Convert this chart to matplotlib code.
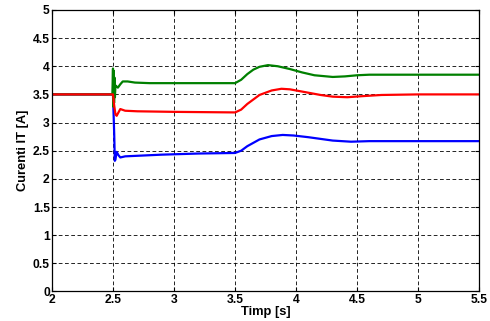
import matplotlib
matplotlib.use("Agg")
import matplotlib.pyplot as plt

# ── Data ───────────────────────────────────────────────────────────────────────

t_green = [2.0, 2.495, 2.500, 2.503, 2.506, 2.509, 2.512, 2.516, 2.52, 2.53, 2.54,
           2.56, 2.58, 2.62, 2.68, 2.8, 3.0, 3.2, 3.5, 3.55, 3.6, 3.65, 3.7,
           3.77, 3.85, 3.95, 4.05, 4.15, 4.3, 4.4, 4.5, 4.6, 5.0, 5.5]
i_green = [3.5, 3.5, 3.96, 3.28, 3.92, 3.35, 3.80, 3.45, 3.66, 3.64, 3.62,
           3.68, 3.73, 3.73, 3.71, 3.70, 3.70, 3.70, 3.70, 3.76, 3.86, 3.94, 3.99,
           4.02, 4.00, 3.95, 3.89, 3.84, 3.81, 3.82, 3.84, 3.85, 3.85, 3.85]

t_red = [2.0, 2.5, 2.51, 2.52, 2.53, 2.545, 2.56, 2.6, 2.7, 3.0, 3.5, 3.55,
         3.6, 3.7, 3.8, 3.88, 3.95, 4.05, 4.2, 4.3, 4.42, 4.55, 4.7, 5.0, 5.5]
i_red = [3.5, 3.5, 3.3, 3.15, 3.12, 3.18, 3.24, 3.21, 3.20, 3.19, 3.18, 3.23,
         3.33, 3.49, 3.57, 3.60, 3.59, 3.55, 3.49, 3.46, 3.45, 3.47, 3.49, 3.50, 3.50]

t_blue = [2.0, 2.5, 2.51, 2.515, 2.52, 2.53, 2.545, 2.56, 2.6, 2.7, 2.9, 3.2,
          3.5, 3.55, 3.6, 3.7, 3.8, 3.89, 3.98, 4.1, 4.2, 4.3, 4.45, 4.6, 5.0, 5.5]
i_blue = [3.5, 3.5, 2.8, 2.32, 2.34, 2.48, 2.42, 2.38, 2.40, 2.41, 2.43, 2.45,
          2.46, 2.50, 2.58, 2.70, 2.76, 2.78, 2.77, 2.74, 2.71, 2.68, 2.66, 2.67, 2.67, 2.67]

x_ticks = [2, 2.5, 3, 3.5, 4, 4.5, 5, 5.5]
y_ticks = [0, 0.5, 1, 1.5, 2, 2.5, 3, 3.5, 4, 4.5, 5]

# ── Plot ───────────────────────────────────────────────────────────────────────

plt.rcParams["font.family"] = ["Liberation Sans", "DejaVu Sans"]
plt.rcParams["font.weight"] = "bold"

fig = plt.figure(figsize=(4.9, 3.21), dpi=100)
ax = fig.add_axes([0.106, 0.092, 0.872, 0.877])

ax.plot(t_blue, i_blue, color="#0000ff", linewidth=1.6)
ax.plot(t_green, i_green, color="#008000", linewidth=1.6)
ax.plot(t_red, i_red, color="#ff0000", linewidth=1.6)

ax.set_xlim(2, 5.5)
ax.set_ylim(0, 5)
ax.set_xticks(x_ticks)
ax.set_yticks(y_ticks)
ax.set_xticklabels([f"{v:g}" for v in x_ticks], fontweight="bold")
ax.set_yticklabels([f"{v:g}" for v in y_ticks], fontweight="bold")

ax.grid(True, color="black", linestyle=(0, (4.5, 3)), linewidth=0.6)
ax.tick_params(direction="in", length=3, width=0.8, top=True, right=True,
               labelsize=8.7, pad=1.5)
for sp in ax.spines.values():
    sp.set_linewidth(0.9)

ax.set_xlabel("Timp [s]", fontsize=9.3, fontweight="bold", labelpad=0)
ax.set_ylabel("Curenti IT [A]", fontsize=9.3, fontweight="bold", labelpad=3)

fig.savefig("out.png", dpi=100)
